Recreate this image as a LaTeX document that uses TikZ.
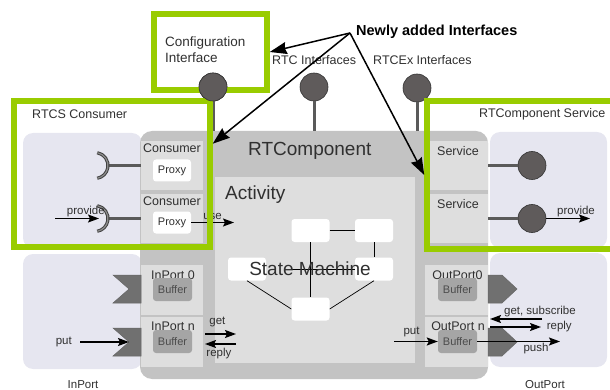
\documentclass[tikz,border=0pt]{standalone}
\usepackage{fontspec}
\setmainfont{Liberation Sans}
\usepackage{xcolor}
\usetikzlibrary{positioning,calc,arrows.meta}

\definecolor{rtcgreen}{HTML}{99CC00}
\definecolor{rtcgray}{HTML}{C3C3C3}
\definecolor{rtccell}{HTML}{DEDEDE}
\definecolor{rtclav}{HTML}{E6E6F0}
\definecolor{rtcbuf}{HTML}{A5A5A5}
\definecolor{rtcdark}{HTML}{707070}
\definecolor{rtcknob}{HTML}{5F5B5B}
\definecolor{rtcstem}{HTML}{5A5A5A}
\definecolor{rtctext}{HTML}{303030}

\tikzset{
  cell/.style={fill=rtccell, inner sep=0pt, minimum width=62pt, minimum height=49pt},
  proxy/.style={fill=white, rounded corners=3pt, minimum width=38pt, minimum height=22pt,
    inner sep=0pt, font=\fontsize{11}{12}\selectfont, text=rtctext},
  buffer/.style={fill=rtcbuf, rounded corners=3pt, minimum width=39pt, minimum height=23pt,
    inner sep=0pt, font=\fontsize{11}{12}\selectfont, text=black!70},
  state/.style={fill=white, rounded corners=3pt, minimum width=38pt, minimum height=23pt, inner sep=0pt},
  knob/.style={circle, fill=rtcknob, draw=black!80, line width=.6pt, minimum size=28pt, inner sep=0pt},
  stem/.style={draw=rtcstem, line width=3pt},
  socket/.style={draw=black!75, double=black!45, double distance=1.2pt, line width=1pt},
  chevron/.style={fill=rtcdark, draw=black!60, line width=.5pt},
  newbox/.style={draw=rtcgreen, line width=5.5pt, inner sep=0pt},
  arr/.style={line width=1.6pt, -{Stealth[length=11pt,width=8pt,inset=2pt]}},
  newarr/.style={line width=1.5pt, -{Stealth[length=17pt,width=12pt,inset=1.5pt]}},
  lbl/.style={font=\fontsize{12.5}{14}\selectfont, text=rtctext, inner sep=0pt},
  big/.style={font=\fontsize{19}{22}\selectfont, text=rtctext, inner sep=0pt},
  small/.style={font=\fontsize{11.5}{13}\selectfont, text=rtctext, inner sep=1pt},
}

\begin{document}
\begin{tikzpicture}[x=1pt,y=-1pt]
  \useasboundingbox (0,0) rectangle (610,390);

  % Outer regions
  \fill[rtclav, rounded corners=10pt] (23,133) rectangle (142,248);
  \fill[rtclav, rounded corners=10pt] (23,254) rectangle (142,369);
  \fill[rtclav, rounded corners=10pt] (490,132) rectangle (607,248);
  \fill[rtclav, rounded corners=10pt] (490,253) rectangle (607,367);

  % Component
  \node[fill=rtcgray, rounded corners=12pt, inner sep=0pt,
        minimum width=348pt, minimum height=248pt] (rtc) at (314,255) {};
  \node[fill=rtccell, inner sep=0pt, minimum width=200pt, minimum height=186pt] (act) at (315,270) {};
  \node[big, anchor=base west] (rtcname) at (248,156) {RTComponent};
  \node[big, anchor=base west] (actname) at (225,200) {Activity};

  % Consumer side
  \node[cell] (con1) at (172,165.5) {};
  \node[cell] (con2) at (172,218.5) {};
  \node[lbl, anchor=base] (con1txt) at (172,153) {Consumer};
  \node[lbl, anchor=base] (con2txt) at (172,206) {Consumer};
  \node[proxy] (prx1) at (172,170.5) {Proxy};
  \node[proxy] (prx2) at (172,222.5) {Proxy};
  \coordinate (sock1) at (108,165.5);
  \coordinate (sock2) at (108,218.5);
  \draw[stem] (sock1) -- (con1.west);
  \draw[stem] (sock2) -- (con2.west);
  \draw[socket] (95,165.5) ++(-80:13) arc[start angle=-80, end angle=80, radius=13];
  \draw[socket] (95,218.5) ++(-80:13) arc[start angle=-80, end angle=80, radius=13];

  % Service side
  \node[cell, minimum width=63pt] (srv1) at (456.5,165.5) {};
  \node[cell, minimum width=63pt] (srv2) at (456.5,218.5) {};
  \node[lbl, anchor=base] (srv1txt) at (458,156) {Service};
  \node[lbl, anchor=base] (srv2txt) at (458,208) {Service};
  \node[knob] (knb1) at (532,165.5) {};
  \node[knob] (knb2) at (532,218.5) {};
  \draw[stem] (srv1.east) -- (knb1);
  \draw[stem] (srv2.east) -- (knb2);

  % InPorts
  \node[cell, minimum height=50pt] (inp0) at (172,290) {};
  \node[cell, minimum height=50pt] (inpn) at (172,342) {};
  \node[lbl, anchor=base] (inp0txt) at (173,279) {InPort 0};
  \node[lbl, anchor=base] (inpntxt) at (173,330) {InPort n};
  \node[buffer] (bufi0) at (172.5,289.5) {Buffer};
  \node[buffer] (bufin) at (172.5,341.5) {Buffer};
  \fill[chevron] (113,275) -- (141,275) -- (141,303) -- (113,303) -- (129,289) -- cycle;
  \fill[chevron] (113,328) -- (141,328) -- (141,356) -- (113,356) -- (129,342) -- cycle;

  % OutPorts
  \node[cell, minimum width=63pt, minimum height=50pt] (outp0) at (456.5,290) {};
  \node[cell, minimum width=63pt, minimum height=50pt] (outpn) at (456.5,342) {};
  \node[lbl, anchor=base] (outp0txt) at (457.5,279) {OutPort0};
  \node[lbl, anchor=base] (outpntxt) at (458,330) {OutPort n};
  \node[buffer] (bufo0) at (457.5,289.5) {Buffer};
  \node[buffer] (bufon) at (457.5,341.5) {Buffer};
  \fill[chevron] (488,275) -- (502,275) -- (517,289) -- (502,303) -- (488,303) -- cycle;
  \fill[chevron] (488,328) -- (502,328) -- (517,342) -- (502,356) -- (488,356) -- cycle;

  % State machine
  \node[state] (sma) at (310.5,230.5) {};
  \node[state] (smb) at (374,230.5) {};
  \node[state] (smc) at (247,269) {};
  \node[state] (smd) at (374,269) {};
  \node[state] (sme) at (310.5,309) {};
  \draw[line width=.7pt] (sma.east) -- (smb.west);
  \draw[line width=.7pt] (smb.south) -- (smd.north);
  \draw[line width=.7pt] (sma.south) -- (sme.north);
  \draw[line width=.7pt] (smc.south) -- (sme.west);
  \draw[line width=.7pt] (smd.south) -- (sme.east);
  \draw[line width=.7pt] (sme.west |- smc.east) -- (smd.west);
  \node[big] (smtxt) at (310,269) {State Machine};

  % Data and service flows
  \coordinate (provl) at (55,218.5);
  \coordinate (provltip) at (99,218.5);
  \draw[arr] (provl) -- node[small, above, pos=.7] (provltxt) {provide} (provltip);
  \coordinate (usetip) at (234,222.5);
  \draw[arr] (prx2.east) -- node[small, above=1pt] (usetxt) {use} (usetip);
  \coordinate (provr) at (590,218.5);
  \draw[arr] (knb2.east) -- node[small, above, pos=.68] (provrtxt) {provide} (provr);

  \coordinate (putin) at (80,342);
  \coordinate (notchn) at (129,342);
  \draw[arr] (putin) -- (notchn);
  \node[small, left=7pt of putin] (putintxt) {put};
  \coordinate (getfrom) at (205,334);
  \coordinate (getto) at (236,334);
  \draw[arr] (getfrom) -- node[small, above=5pt, pos=.4] (gettxt) {get} (getto);
  \coordinate (repfrom) at (236,344);
  \coordinate (repto) at (205,344);
  \draw[arr] (repfrom) -- node[small, below=2pt, pos=.55] (reptxt) {reply} (repto);

  \coordinate (putout) at (394,341.5);
  \draw[arr] (putout) -- node[small, above=3pt, pos=.4] (putouttxt) {put} (bufon.west);
  \coordinate (gsfrom) at (542,319);
  \coordinate (gsto) at (490,319);
  \draw[arr] (gsfrom) -- node[small, above, pos=.04] (gstxt) {get, subscribe} (gsto);
  \coordinate (rofrom) at (490,327);
  \coordinate (roto) at (541,327);
  \draw[arr] (rofrom) -- (roto) node[small, right=4pt] (rotxt) {reply};
  \coordinate (pushto) at (560,341.5);
  \draw[arr] (bufon.east) -- node[small, below, pos=.71] (pushtxt) {push} (pushto);

  % Interfaces on top
  \node[knob] (knbcfg) at (213,87) {};
  \node[knob] (knbrtc) at (314,87) {};
  \node[knob] (knbex) at (417,88) {};
  \draw[stem] (knbcfg.south) -- (knbcfg.south |- rtc.north);
  \draw[stem] (knbrtc.south) -- (knbrtc.south |- rtc.north);
  \draw[stem] (knbex.south) -- (knbex.south |- rtc.north);
  \node[lbl, anchor=base west] (rtcif) at (272,65) {RTC Interfaces};
  \node[lbl, anchor=base west] (rtcexif) at (373,65) {RTCEx Interfaces};

  % Newly added interfaces
  \node[newbox, minimum width=113pt, minimum height=76pt] (cfgbox) at (210.5,52) {};
  \node[newbox, minimum width=196pt, minimum height=146pt] (rtcsbox) at (112,174) {};
  \node[newbox, minimum width=188pt, minimum height=148pt] (svcbox) at (521,175) {};
  \node[knob] (knbcfgtop) at (213,87) {};
  \node[font=\fontsize{13.5}{16}\selectfont, text=rtctext, inner sep=0pt, anchor=base west]
    (cfgtxt1) at (165,46.5) {Configuration};
  \node[font=\fontsize{13.5}{16}\selectfont, text=rtctext, inner sep=0pt, anchor=base west]
    (cfgtxt2) at (165,62.5) {Interface};
  \node[lbl, anchor=base west] (rtcstxt) at (32,119) {RTCS Consumer};
  \node[lbl, anchor=base west] (svctxt) at (479,118) {RTComponent Service};

  \node[font=\fontsize{14.5}{17}\bfseries, inner sep=0pt, anchor=base west] (newly) at (356,36) {Newly added Interfaces};
  \coordinate (nahub) at (350,33);
  \draw[newarr] (nahub) -- (cfgbox.east);
  \draw[newarr] (nahub) -- ($(rtcsbox.north east)!.3!(rtcsbox.south east)$);
  \draw[newarr] (nahub) -- (svcbox.west);

  % Port labels
  \node[lbl, font=\fontsize{11.5}{13}\selectfont, anchor=base] (inporttxt) at (83,388) {InPort};
  \node[lbl, font=\fontsize{11.5}{13}\selectfont, anchor=base] (outporttxt) at (545,388) {OutPort};
\end{tikzpicture}
\end{document}
